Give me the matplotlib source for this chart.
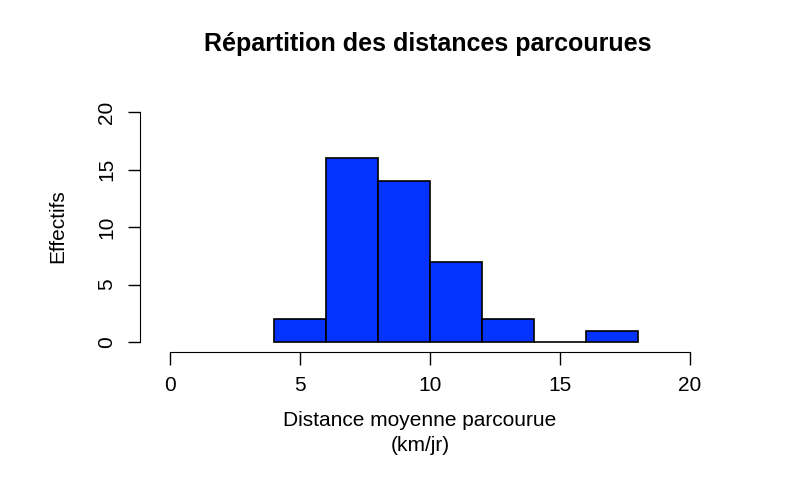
import matplotlib
matplotlib.use("Agg")
import matplotlib.pyplot as plt
plt.rcParams['font.family'] = ['Liberation Sans', 'DejaVu Sans']

bin_edges = [4, 6, 8, 10, 12, 14, 16, 18]
counts = [2, 16, 14, 7, 2, 0, 1]
xticks = [0, 5, 10, 15, 20]
yticks = [0, 5, 10, 15, 20]

fig = plt.figure(figsize=(8, 4.94), dpi=100)
ax = fig.add_axes([0.175, 0.2874, 0.7, 0.510])
lefts = bin_edges[:-1]
widths = [b - a for a, b in zip(bin_edges[:-1], bin_edges[1:])]
ax.bar(lefts, counts, width=widths, align="edge", color="#0433ff", edgecolor="black", linewidth=1.2)
ax.set_xlim(-30/26, 20 + 10/26)
ax.set_ylim(-10/11.5, 242/11.5)
for s in ["top", "right"]:
    ax.spines[s].set_visible(False)
ax.spines["left"].set_bounds(0, 20)
ax.spines["bottom"].set_bounds(0, 20)
ax.set_xticks(xticks)
ax.set_yticks(yticks)
ax.tick_params(labelsize=15, length=9, width=1, pad=8)
plt.setp(ax.get_yticklabels(), rotation=90, va="center")
ax.set_ylabel("Effectifs", fontsize=15, labelpad=22)
ax.set_xlabel("Distance moyenne parcourue\n(km/jr)", fontsize=15, labelpad=12, linespacing=1.4)
fig.text(0.535, 0.91, "Répartition des distances parcourues", ha="center", va="center",
         fontsize=18, fontweight="bold")
fig.savefig("out.png", dpi=100)
